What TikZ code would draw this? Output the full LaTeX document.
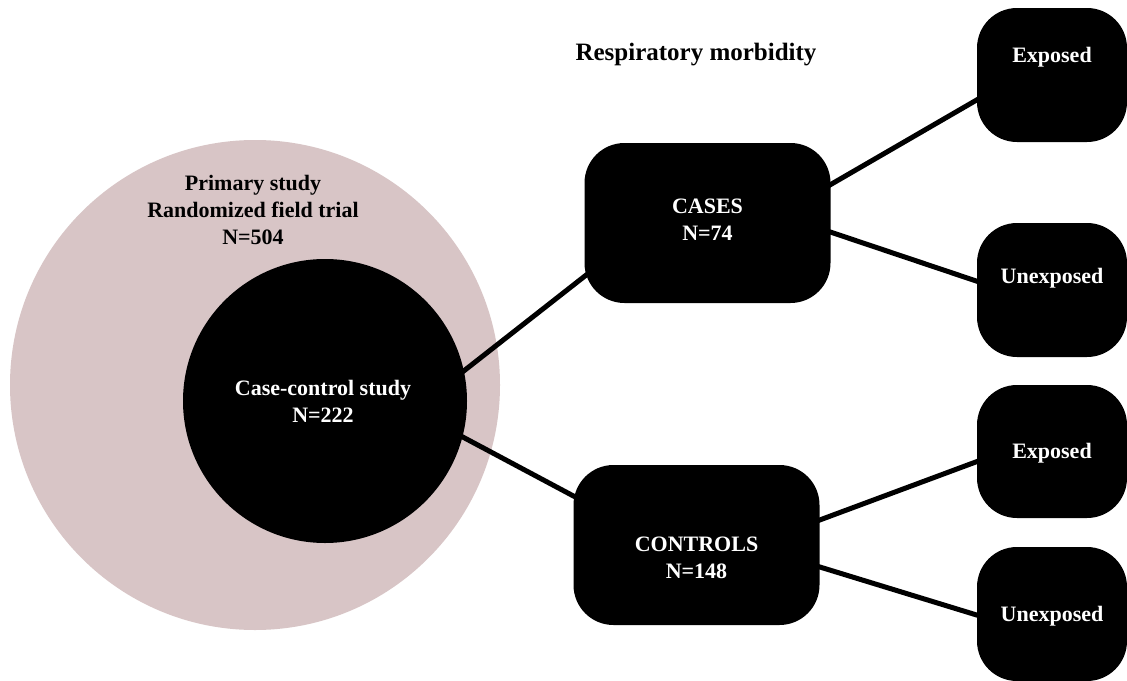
\documentclass[tikz,border=0pt]{standalone}
\usepackage{fontspec}
\setmainfont{Liberation Serif}
\usetikzlibrary{calc,backgrounds}
\definecolor{pinkc}{RGB}{216,197,198}
\pgfdeclarelayer{back}
\pgfsetlayers{back,background,main}
\begin{document}
\begin{tikzpicture}[x=1pt,y=-1pt,
  box/.style={fill=black, rounded corners=40pt, inner sep=0pt},
  bigbox/.style={box, minimum width=246pt, minimum height=160pt},
  endbox/.style={box, minimum width=150pt, minimum height=134pt},
  wtxt/.style={text=white, font=\fontsize{22}{27}\selectfont\bfseries, align=center, inner sep=0pt},
  btxt/.style={text=black, font=\fontsize{22}{27}\selectfont\bfseries, align=center, inner sep=0pt},
  conn/.style={line width=5pt, draw=black}]
\useasboundingbox (0,0) rectangle (1127,680);
\clip (0,0) rectangle (1127,680);
% circles
\begin{pgfonlayer}{back}
\fill[white] (0,0) rectangle (1127,680);
\node[circle, fill=pinkc, minimum size=490pt, inner sep=0pt] (primary) at (255,385) {};
\end{pgfonlayer}
\node[circle, fill=black, minimum size=284pt, inner sep=0pt] (cc) at (325,401) {};
\node[btxt] (primarytxt) at (253,210) {Primary study\\Randomized field trial\\N=504};
\node[wtxt] (cctxt) at (323,401) {Case-control study\\N=222};
% boxes
\node[bigbox] (cases) at (707.5,223) {};
\node[wtxt] (casestxt) at (707.5,220) {CASES\\N=74};
\node[bigbox] (controls) at (696.5,545) {};
\node[wtxt] (controlstxt) at (696.5,558) {CONTROLS\\N=148};
\node[endbox] (e1) at (1052,75) {};
\node[wtxt] (e1txt) at (1052,57) {Exposed};
\node[endbox] (u1) at (1052,290) {};
\node[wtxt] (u1txt) at (1052,278) {Unexposed};
\node[endbox, minimum height=133pt] (e2) at (1052,451.5) {};
\node[wtxt] (e2txt) at (1052,453) {Exposed};
\node[endbox] (u2) at (1052,614) {};
\node[wtxt] (u2txt) at (1052,616) {Unexposed};
\node[btxt, font=\fontsize{25}{30}\selectfont\bfseries] (title) at (696,55) {Respiratory morbidity};
% connectors
\begin{pgfonlayer}{background}
\draw[conn] ($(cc)+(103,-2)$) -- ($(cases)+(-94.5,31)$);
\draw[conn] ($(cc)+(104,18)$) -- ($(controls)+(-85.5,-29)$);
\draw[conn] ($(cases)+(93,-21)$) -- ($(e1)+(-46,8)$);
\draw[conn] ($(cases)+(93,-1)$) -- ($(u1)+(-46,1)$);
\draw[conn] ($(controls)+(92,-13.4)$) -- ($(e2)+(-44,-1.5)$);
\draw[conn] ($(controls)+(92,12.4)$) -- ($(u2)+(-44,10.6)$);
\end{pgfonlayer}
\end{tikzpicture}
\end{document}
